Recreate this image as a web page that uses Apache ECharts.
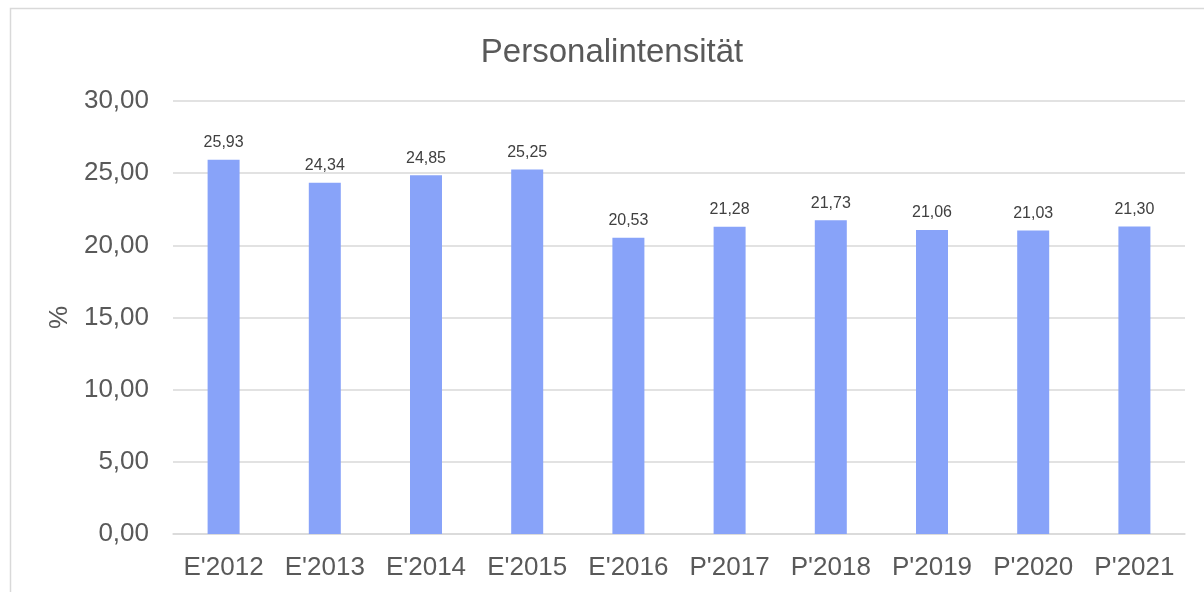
<!DOCTYPE html>
<html>
<head>
<meta charset="utf-8">
<script src="https://cdn.jsdelivr.net/npm/echarts@6/dist/echarts.min.js"></script>
<style>
  html, body { margin: 0; padding: 0; background: #fff; }
  #chart { width: 1204px; height: 592px; }
</style>
</head>
<body>
<div id="chart"></div>
<script>
const categories = ["E'2012", "E'2013", "E'2014", "E'2015", "E'2016", "P'2017", "P'2018", "P'2019", "P'2020", "P'2021"]
const values = [25.93, 24.34, 24.85, 25.25, 20.53, 21.28, 21.73, 21.06, 21.03, 21.30]
const yTicks = { min: 0, max: 30, interval: 5 }

const fmt = (v) => Number(v).toFixed(2).replace('.', ',')
const font = 'Liberation Sans, Arial, sans-serif'

const chart = echarts.init(document.getElementById('chart'), null, { renderer: 'canvas' })

const option = {
  animation: false,
  backgroundColor: '#fff',
  graphic: [
    {
      type: 'rect',
      shape: { x: 10.5, y: 8.5, width: 1300, height: 700 },
      style: { fill: 'none', stroke: '#d9d9d9', lineWidth: 1.5 },
      silent: true
    }
  ],
  title: {
    text: 'Personalintensität',
    left: 607,
    textAlign: 'center',
    top: 31,
    textStyle: { fontFamily: font, fontSize: 33, fontWeight: 'normal', color: '#595959' }
  },
  grid: { left: 173, right: 19, top: 101, bottom: 58, containLabel: false },
  xAxis: {
    type: 'category',
    data: categories,
    axisTick: { show: false },
    axisLine: { lineStyle: { color: '#d9d9d9', width: 1.5 } },
    axisLabel: { interval: 0, hideOverlap: false, fontFamily: font, fontSize: 26, color: '#595959', margin: 21 }
  },
  yAxis: {
    type: 'value',
    min: yTicks.min,
    max: yTicks.max,
    interval: yTicks.interval,
    name: '%',
    nameLocation: 'middle',
    nameRotate: 90,
    nameGap: 98,
    nameTextStyle: { fontFamily: font, fontSize: 26, color: '#595959' },
    axisLine: { show: false },
    axisTick: { show: false },
    splitLine: { lineStyle: { color: '#d9d9d9', width: 1.5 } },
    axisLabel: { fontFamily: font, fontSize: 26, color: '#595959', margin: 24, formatter: fmt }
  },
  series: [
    {
      type: 'bar',
      data: values,
      barWidth: 32,
      itemStyle: { color: '#88a3f9' },
      label: {
        show: true,
        position: 'top',
        distance: 9,
        fontFamily: font,
        fontSize: 16,
        color: '#404040',
        formatter: (p) => fmt(p.value)
      }
    }
  ]
}

chart.setOption(option)
window.addEventListener('resize', chart.resize)
</script>
</body>
</html>
